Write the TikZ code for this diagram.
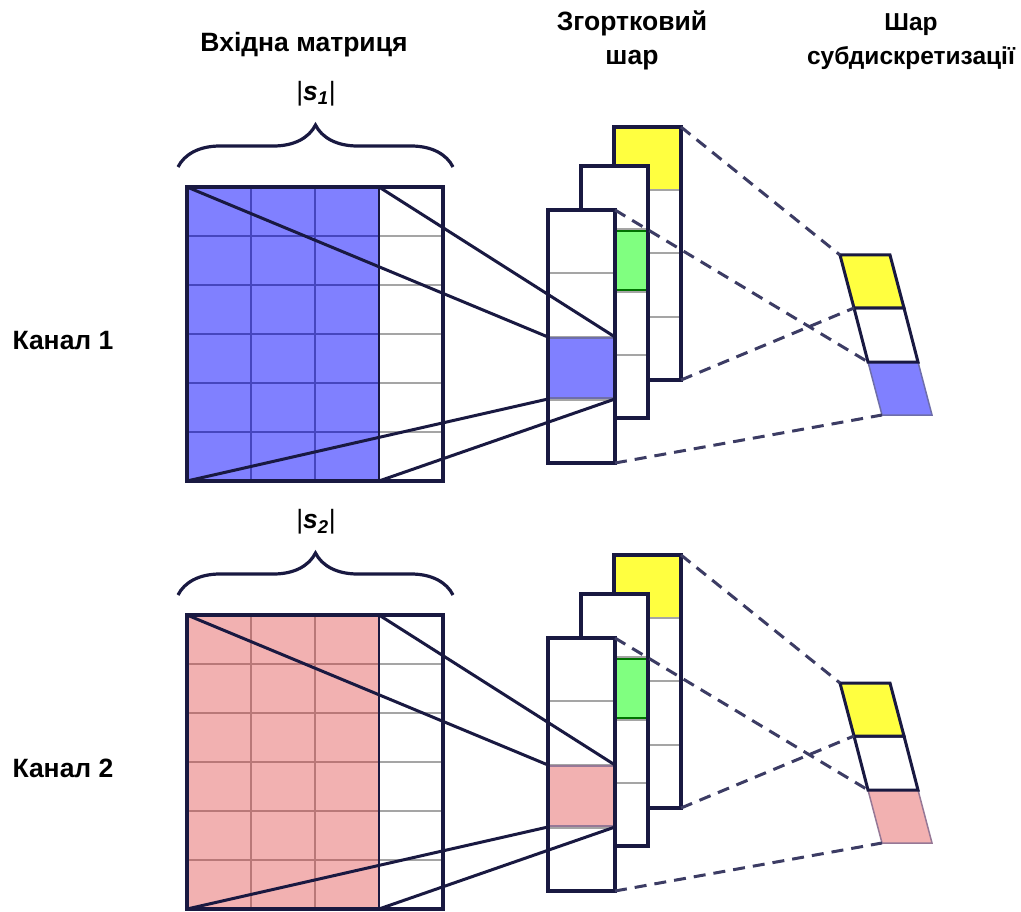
\documentclass[tikz,border=0pt]{standalone}
\usepackage{fontspec}
\setmainfont{Liberation Sans}
\usepackage{xcolor}
\usepackage{tikz}
\usetikzlibrary{decorations.pathreplacing,calc}
\definecolor{encre}{RGB}{25,25,65}
\definecolor{tiret}{RGB}{60,60,100}
\definecolor{grille}{RGB}{165,165,165}
\definecolor{bleucanal}{RGB}{128,128,255}
\definecolor{bleutrait}{RGB}{70,70,190}
\definecolor{bleubord}{RGB}{110,110,170}
\definecolor{rosecanal}{RGB}{242,177,177}
\definecolor{rosetrait}{RGB}{185,120,120}
\definecolor{rosebord}{RGB}{150,120,150}
\definecolor{jaune}{RGB}{255,255,64}
\definecolor{vert}{RGB}{128,255,128}

\begin{document}
\begin{tikzpicture}[x=1pt,y=-1pt,
    titre/.style={font=\bfseries\fontsize{26.5}{34}\selectfont,align=center},
    cadre/.style={draw=encre,line width=3.5pt},
    grisfin/.style={draw=grille,line width=1.5pt},
    lien/.style={draw=encre,line width=3pt},
    pointille/.style={draw=tiret,line width=3pt,dash pattern=on 12pt off 8pt},
    accolade/.style={draw=encre,line width=3.2pt,decorate,decoration={brace,amplitude=42pt}}]
  \useasboundingbox (0,0) rectangle (1021,912);
  % titres
  \node[titre,anchor=base] (tEntree) at (304,52) {Вхідна матриця};
  \node[titre,anchor=base] (tConv) at (632,65) {Згортковий\\шар};
  \node[titre,anchor=base,font=\bfseries\fontsize{24.5}{34}\selectfont] (tPool) at (911,65) {Шар\\субдискретизації};
  \foreach \k/\dy/\fond/\trait/\bord in {1/0/bleucanal/bleutrait/bleubord,
                                         2/428/rosecanal/rosetrait/rosebord}{
  \begin{scope}[yshift=-\dy pt]
    \node[titre,anchor=base west] (canal\k) at (9,349) {Канал \k};
    \node[font=\fontsize{26.5}{30}\selectfont] (taille\k) at (316,94)
      {|\textbf{\textit{s}}\textsubscript{\textbf{\textit{\k}}}|};
    \draw[accolade] (178,167) -- (453,167);
    % matrice d'entree
    \fill[\fond] (187,187) rectangle (379,481);
    \foreach \x in {251,315} \draw[\trait,line width=1.5pt] (\x,187) -- (\x,481);
    \foreach \y in {236,285,334,383,432}{
      \draw[\trait,line width=1.5pt] (187,\y) -- (379,\y);
      \draw[grisfin] (379,\y) -- (443,\y);}
    \draw[encre,line width=2pt] (379,187) -- (379,481);
    \draw[cadre] (187,187) rectangle (443,481);
    \coordinate (noyau\k-no) at (187,187);
    \coordinate (noyau\k-ne) at (379,187);
    \coordinate (noyau\k-so) at (187,481);
    \coordinate (noyau\k-se) at (379,481);
    % couche de convolution : carte du fond
    \fill[white] (614,127) rectangle (681,380);
    \fill[jaune] (614,127) rectangle (681,190);
    \foreach \y in {190,253,317} \draw[grisfin] (614,\y) -- (681,\y);
    \draw[cadre] (614,127) rectangle (681,380);
    \coordinate (fond\k-ne) at (681,127);
    \coordinate (fond\k-se) at (681,380);
    % carte du milieu
    \fill[white] (581,166) rectangle (648,418);
    \foreach \y in {229,292,355} \draw[grisfin] (581,\y) -- (648,\y);
    \filldraw[fill=vert,draw=green!45!black,line width=1.2pt] (581,231) rectangle (648,290);
    \draw[cadre] (581,166) rectangle (648,418);
    % carte de devant
    \fill[white] (548,210) rectangle (615,463);
    \foreach \y in {273,337,400} \draw[grisfin] (548,\y) -- (615,\y);
    \filldraw[fill=\fond,draw=\bord,line width=1.5pt] (548,338) rectangle (615,398);
    \draw[cadre] (548,210) rectangle (615,463);
    \coordinate (avant\k-ne) at (615,210);
    \coordinate (avant\k-se) at (615,463);
    \coordinate (cel\k-no) at (548,337);
    \coordinate (cel\k-ne) at (615,337);
    \coordinate (cel\k-so) at (548,399);
    \coordinate (cel\k-se) at (615,399);
    % liens noyau -> cellule
    \draw[lien] (noyau\k-no) -- (cel\k-no);
    \draw[lien] (noyau\k-ne) -- (cel\k-ne);
    \draw[lien] (noyau\k-so) -- (cel\k-so);
    \draw[lien] (noyau\k-se) -- (cel\k-se);
    % couche de sous-echantillonnage
    \coordinate (pool\k-0) at (840,255);
    \coordinate (pool\k-1) at (854,308);
    \coordinate (pool\k-2) at (868,362);
    \coordinate (pool\k-3) at (882,415);
    \filldraw[fill=\fond,draw=\bord,line width=1.5pt]
      (pool\k-2) -- ($(pool\k-2)+(50,0)$) -- ($(pool\k-3)+(50,0)$) -- (pool\k-3) -- cycle;
    \filldraw[fill=white,draw=encre,line width=3pt]
      (pool\k-1) -- ($(pool\k-1)+(50,0)$) -- ($(pool\k-2)+(50,0)$) -- (pool\k-2) -- cycle;
    \filldraw[fill=jaune,draw=encre,line width=3pt]
      (pool\k-0) -- ($(pool\k-0)+(50,0)$) -- ($(pool\k-1)+(50,0)$) -- (pool\k-1) -- cycle;
    % pointilles
    \draw[pointille] (fond\k-ne) -- (pool\k-0);
    \draw[pointille] (fond\k-se) -- (pool\k-1);
    \draw[pointille] (avant\k-ne) -- (pool\k-2);
    \draw[pointille] (avant\k-se) -- (pool\k-3);
  \end{scope}}
\end{tikzpicture}
\end{document}
